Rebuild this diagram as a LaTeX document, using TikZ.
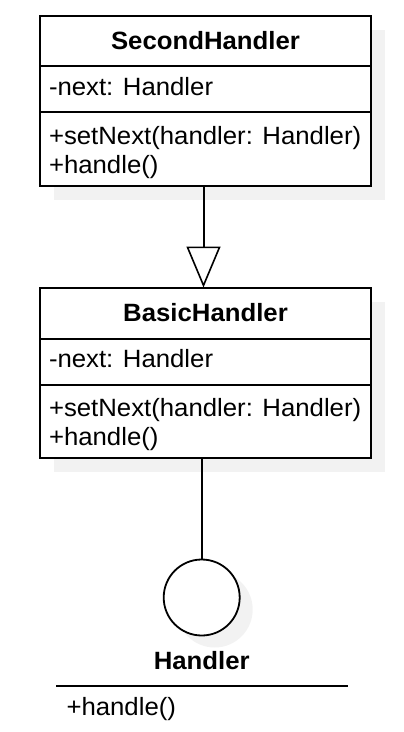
\documentclass[tikz,border=0pt]{standalone}
\usepackage{fontspec}
\setmainfont{Liberation Sans}[FakeStretch=1.03]
\usetikzlibrary{arrows.meta,shadows}
\definecolor{shadowc}{RGB}{242,242,242}
\begin{document}
\begin{tikzpicture}[x=1pt,y=-1pt,
  every node/.style={inner sep=0pt, outer sep=0pt},
  ln/.style={line width=2pt},
  shadowed/.style={drop shadow={shadow xshift=14pt, shadow yshift=-14pt, fill=shadowc, opacity=1}},
  frame/.style={ln, draw, fill=white, minimum width=331pt, minimum height=170pt, anchor=north west, shadowed},
  part/.style={ln, draw, minimum width=331pt, anchor=north west},
  title/.style={font=\fontsize{25}{30}\selectfont\bfseries, anchor=base},
  member/.style={font=\fontsize{25}{30}\selectfont, anchor=base west},
  iface/.style={ln, draw, circle, fill=white, minimum size=76pt, line width=1.8pt,
    drop shadow={shadow xshift=13pt, shadow yshift=-12pt, fill=shadowc, opacity=1}}
]
\useasboundingbox (0,0) rectangle (404,732);
% SecondHandler
\node[frame] (second) at (40,16) {};
\node[part, minimum height=50pt] (sHead) at (40,16) {};
\node[part, minimum height=46pt] (sAttr) at (40,66) {};
\node[part, minimum height=73.5pt] (sOps) at (40,112) {};
\node[title] (sT) at (205.5,49.3) {SecondHandler};
\node[member] (sA) at (49,95.7) {-next: Handler};
\node[member] (sO1) at (49,144) {+setNext(handler: Handler)};
\node[member] (sO2) at (49,173) {+handle()};
% BasicHandler
\node[frame] (basic) at (40,287.5) {};
\node[part, minimum height=51pt] (bHead) at (40,287.5) {};
\node[part, minimum height=46pt] (bAttr) at (40,338.5) {};
\node[part, minimum height=73.5pt] (bOps) at (40,384.5) {};
\node[title] (bT) at (205.5,321) {BasicHandler};
\node[member] (bA) at (49,367.5) {-next: Handler};
\node[member] (bO1) at (49,416) {+setNext(handler: Handler)};
\node[member] (bO2) at (49,445) {+handle()};
% Handler interface
\node[iface] (handler) at (201.7,597.5) {};
\node[title] (hT) at (201.7,669) {Handler};
\coordinate (hL) at (56,686);
\coordinate (hR) at (348,686);
\draw[ln] (hL) -- (hR);
\node[member] (hO) at (66.5,715) {+handle()};
% connectors
\draw[ln, -{Triangle[open, length=41pt, width=34pt, line width=1.6pt]}]
  ([xshift=-2pt]second.south) -- ([xshift=-2pt]basic.north);
\draw[ln] (basic.south -| handler.north) -- (handler.north);
\end{tikzpicture}
\end{document}
